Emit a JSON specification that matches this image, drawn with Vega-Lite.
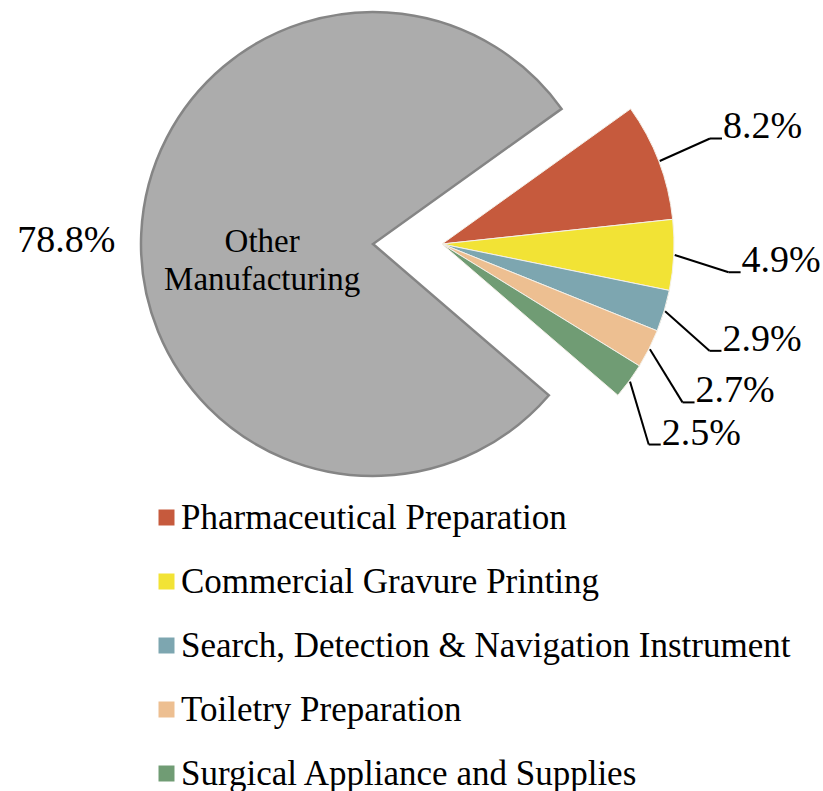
{
  "$schema": "https://vega.github.io/schema/vega-lite/v6.json",
  "width": 823,
  "height": 791,
  "autosize": "none",
  "padding": 0,
  "background": "white",
  "config": {"view": {"stroke": null}, "font": "Liberation Serif"},
  "data": {"values": [
    {"category": "Other Manufacturing", "value": 78.8},
    {"category": "Pharmaceutical Preparation", "value": 8.2},
    {"category": "Commercial Gravure Printing", "value": 4.9},
    {"category": "Search, Detection & Navigation Instrument", "value": 2.9},
    {"category": "Toiletry Preparation", "value": 2.7},
    {"category": "Surgical Appliance and Supplies", "value": 2.5}
  ]},
  "transform": [
    {"stack": "value", "groupby": [], "as": ["v0", "v1"], "sort": [{"field": "value", "order": "ascending"}]},
    {"calculate": "90 - (130.7 - (datum.v0 + datum.v1) / 2 * 3.6)", "as": "mathMid"},
    {"calculate": "datum.mathMid * PI / 180", "as": "mm"},
    {"calculate": "(1.15 * datum.mathMid - 2.5) * PI / 180", "as": "elb"},
    {"calculate": "format(datum.value, '.1f') + '%'", "as": "pct"}
  ],
  "layer": [
    {
      "transform": [{"filter": "datum.category == 'Other Manufacturing'"}],
      "mark": {"type": "arc", "radius": 232, "color": "#acacac", "stroke": "#858585", "strokeWidth": 2.5},
      "encoding": {
        "theta": {"field": "v0", "type": "quantitative", "stack": null, "scale": {"domain": [0, 100], "range": [2.2811, -4.0021]}},
        "theta2": {"field": "v1"},
        "x": {"value": 373},
        "y": {"value": 244}
      }
    },
    {
      "transform": [{"filter": "datum.category != 'Other Manufacturing'"}],
      "mark": {"type": "arc", "radius": 232, "stroke": "#f4f0e8", "strokeWidth": 1},
      "encoding": {
        "theta": {"field": "v0", "type": "quantitative", "stack": null, "scale": {"domain": [0, 100], "range": [2.2811, -4.0021]}},
        "theta2": {"field": "v1"},
        "x": {"value": 442},
        "y": {"value": 244},
        "color": {
          "field": "category",
          "type": "nominal",
          "sort": null,
          "scale": {
            "domain": ["Pharmaceutical Preparation", "Commercial Gravure Printing", "Search, Detection & Navigation Instrument", "Toiletry Preparation", "Surgical Appliance and Supplies"],
            "range": ["#c65a3d", "#f2e335", "#7da6b0", "#edbf91", "#709c74"]
          },
          "legend": {
            "title": null,
            "orient": "none",
            "legendX": 149,
            "legendY": 500,
            "direction": "vertical",
            "padding": 0,
            "symbolType": "square",
            "symbolSize": 256,
            "symbolStrokeWidth": 0,
            "symbolOpacity": 1,
            "labelFont": "Liberation Serif",
            "labelFontSize": 35,
            "labelColor": "#000000",
            "labelOffset": -3,
            "labelLimit": 700,
            "rowPadding": 28
          }
        }
      }
    },
    {
      "transform": [
        {"filter": "datum.category != 'Other Manufacturing'"},
        {"calculate": "442 + 233 * cos(datum.mm)", "as": "x1"},
        {"calculate": "244 - 233 * sin(datum.mm)", "as": "y1"},
        {"calculate": "442 + 288 * cos(datum.elb)", "as": "x2"},
        {"calculate": "244 - 288 * sin(datum.elb)", "as": "y2"}
      ],
      "mark": {"type": "rule", "color": "#000000", "strokeWidth": 2},
      "encoding": {
        "x": {"field": "x1", "type": "quantitative", "scale": null},
        "y": {"field": "y1", "type": "quantitative", "scale": null},
        "x2": {"field": "x2"},
        "y2": {"field": "y2"}
      }
    },
    {
      "transform": [
        {"filter": "datum.category != 'Other Manufacturing'"},
        {"calculate": "442 + 288 * cos(datum.elb)", "as": "x2"},
        {"calculate": "244 - 288 * sin(datum.elb)", "as": "y2"},
        {"calculate": "datum.x2 + 12", "as": "x3"}
      ],
      "mark": {"type": "rule", "color": "#000000", "strokeWidth": 2},
      "encoding": {
        "x": {"field": "x2", "type": "quantitative", "scale": null},
        "y": {"field": "y2", "type": "quantitative", "scale": null},
        "x2": {"field": "x3"}
      }
    },
    {
      "transform": [
        {"filter": "datum.category != 'Other Manufacturing'"},
        {"calculate": "442 + 288 * cos(datum.elb) + 13", "as": "tx"},
        {"calculate": "244 - 288 * sin(datum.elb) - 11", "as": "ty"}
      ],
      "mark": {"type": "text", "align": "left", "baseline": "middle", "fontSize": 38, "font": "Liberation Serif", "color": "#000000"},
      "encoding": {
        "x": {"field": "tx", "type": "quantitative", "scale": null},
        "y": {"field": "ty", "type": "quantitative", "scale": null},
        "text": {"field": "pct", "type": "nominal"}
      }
    },
    {
      "transform": [
        {"filter": "datum.category == 'Other Manufacturing'"},
        {"calculate": "373 + 307 * cos(datum.mm)", "as": "tx"},
        {"calculate": "244 - 307 * sin(datum.mm) + 11", "as": "ty"}
      ],
      "mark": {"type": "text", "align": "center", "baseline": "middle", "fontSize": 38, "font": "Liberation Serif", "color": "#000000"},
      "encoding": {
        "x": {"field": "tx", "type": "quantitative", "scale": null},
        "y": {"field": "ty", "type": "quantitative", "scale": null},
        "text": {"field": "pct", "type": "nominal"}
      }
    },
    {
      "transform": [
        {"filter": "datum.category == 'Other Manufacturing'"},
        {"calculate": "373 + 111 * cos(datum.mm)", "as": "tx"},
        {"calculate": "244 - 111 * sin(datum.mm) + 3", "as": "ty"}
      ],
      "mark": {"type": "text", "align": "center", "baseline": "middle", "fontSize": 33, "font": "Liberation Serif", "color": "#000000", "lineBreak": " ", "lineHeight": 38},
      "encoding": {
        "x": {"field": "tx", "type": "quantitative", "scale": null},
        "y": {"field": "ty", "type": "quantitative", "scale": null},
        "text": {"field": "category", "type": "nominal"}
      }
    }
  ]
}
